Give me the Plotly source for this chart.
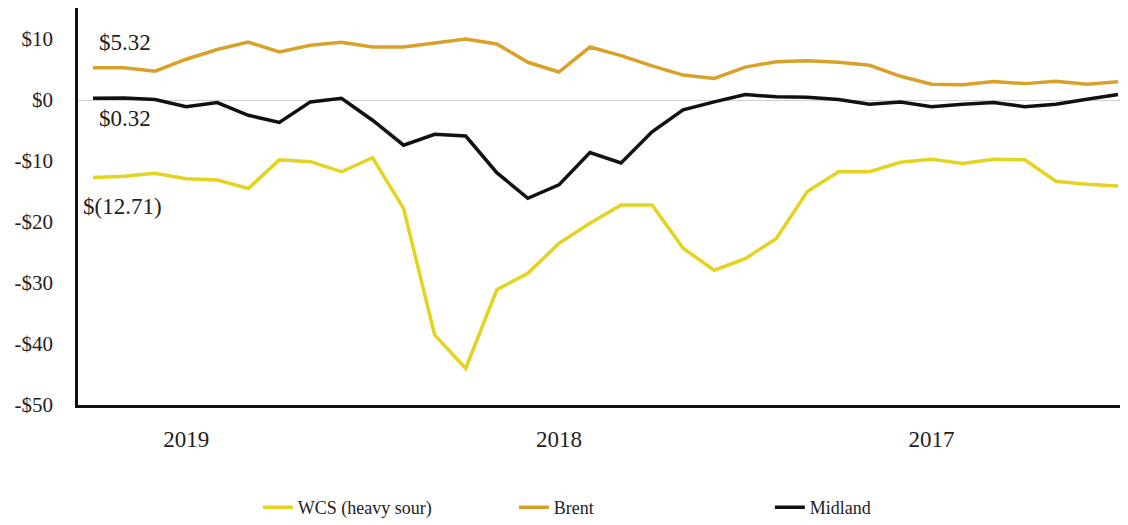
import plotly.graph_objects as go

# Monthly observations, newest (Sep 2019) on the left, back to Dec 2016
months = ["Sep 2019", "Aug 2019", "Jul 2019", "Jun 2019", "May 2019", "Apr 2019", "Mar 2019",
          "Feb 2019", "Jan 2019", "Dec 2018", "Nov 2018", "Oct 2018", "Sep 2018", "Aug 2018",
          "Jul 2018", "Jun 2018", "May 2018", "Apr 2018", "Mar 2018", "Feb 2018", "Jan 2018",
          "Dec 2017", "Nov 2017", "Oct 2017", "Sep 2017", "Aug 2017", "Jul 2017", "Jun 2017",
          "May 2017", "Apr 2017", "Mar 2017", "Feb 2017", "Jan 2017", "Dec 2016"]

wcs = [-12.71, -12.5, -12.0, -12.9, -13.1, -14.5, -9.8, -10.1, -11.75, -9.45,
       -17.8, -38.5, -44.0, -31.1, -28.4, -23.5, -20.2, -17.2, -17.2, -24.3,
       -27.9, -26.0, -22.7, -15.0, -11.75, -11.75, -10.2, -9.7, -10.4, -9.7,
       -9.8, -13.3, -13.8, -14.1]

brent = [5.32, 5.3, 4.75, 6.7, 8.3, 9.5, 7.9, 9.0, 9.5, 8.7,
         8.7, 9.4, 10.0, 9.2, 6.2, 4.6, 8.7, 7.3, 5.6, 4.1,
         3.55, 5.4, 6.3, 6.45, 6.2, 5.7, 3.9, 2.6, 2.5, 3.05,
         2.7, 3.1, 2.6, 3.0]

midland = [0.32, 0.35, 0.1, -1.1, -0.4, -2.5, -3.65, -0.3, 0.3, -3.3,
           -7.4, -5.6, -5.9, -11.9, -16.1, -13.9, -8.6, -10.3, -5.2, -1.6,
           -0.3, 0.9, 0.55, 0.45, 0.1, -0.7, -0.3, -1.1, -0.7, -0.4,
           -1.1, -0.7, 0.15, 0.9]

year_tick_months = ["Jun 2019", "Jun 2018", "Jun 2017"]
year_tick_labels = ["2019", "2018", "2017"]

y_tick_vals = [10, 0, -10, -20, -30, -40, -50]
y_tick_labels = ["$10", "$0", "-$10", "-$20", "-$30", "-$40", "-$50"]

series_names = ["WCS (heavy sour)", "Brent", "Midland"]
series_colors = ["#E4D31F", "#D9A128", "#111111"]

callouts = [("$5.32", 0.12, 9.5), ("$0.32", 0.12, -3.0), ("$(12.71)", -0.4, -17.4)]

FONT = "Liberation Serif, Times New Roman, serif"

fig = go.Figure()
for name, vals, col in zip(series_names, [wcs, brent, midland], series_colors):
    fig.add_trace(go.Scatter(x=months, y=vals, mode="lines", name=name,
                             line=dict(color=col, width=3.5)))

for txt, xi, yv in callouts:
    fig.add_annotation(x=xi, y=yv, xref="x", yref="y", text=txt, showarrow=False,
                       xanchor="left", yanchor="middle",
                       font=dict(family=FONT, size=23, color="#222222"))

fig.update_layout(
    width=1128, height=525,
    margin=dict(l=70, r=0, t=0, b=128, autoexpand=False),
    plot_bgcolor="white", paper_bgcolor="white",
    font=dict(family=FONT, color="#222222"),
    showlegend=True,
    legend=dict(orientation="h", x=0.17, y=-0.258, xanchor="left", yanchor="middle",
                entrywidth=211, entrywidthmode="pixels",
                font=dict(family=FONT, size=18, color="#222222")),
)

fig.update_xaxes(type="category", range=[-0.483, 33.58], automargin=False,
                 tickmode="array", tickvals=year_tick_months, ticktext=year_tick_labels,
                 showgrid=False, zeroline=False, showline=True, linecolor="#111111",
                 linewidth=2.5, ticks="", ticklabelstandoff=12,
                 tickfont=dict(family=FONT, size=23, color="#222222"))

fig.update_yaxes(range=[-50, 15.1], tickmode="array", tickvals=y_tick_vals, automargin=False,
                 ticktext=y_tick_labels, showgrid=False, zeroline=True,
                 zerolinecolor="#cfcfcf", zerolinewidth=1.2, showline=True,
                 linecolor="#111111", linewidth=2.5, ticks="", ticklabelstandoff=18,
                 tickfont=dict(family=FONT, size=21, color="#222222"))

fig.write_html("out.html")
